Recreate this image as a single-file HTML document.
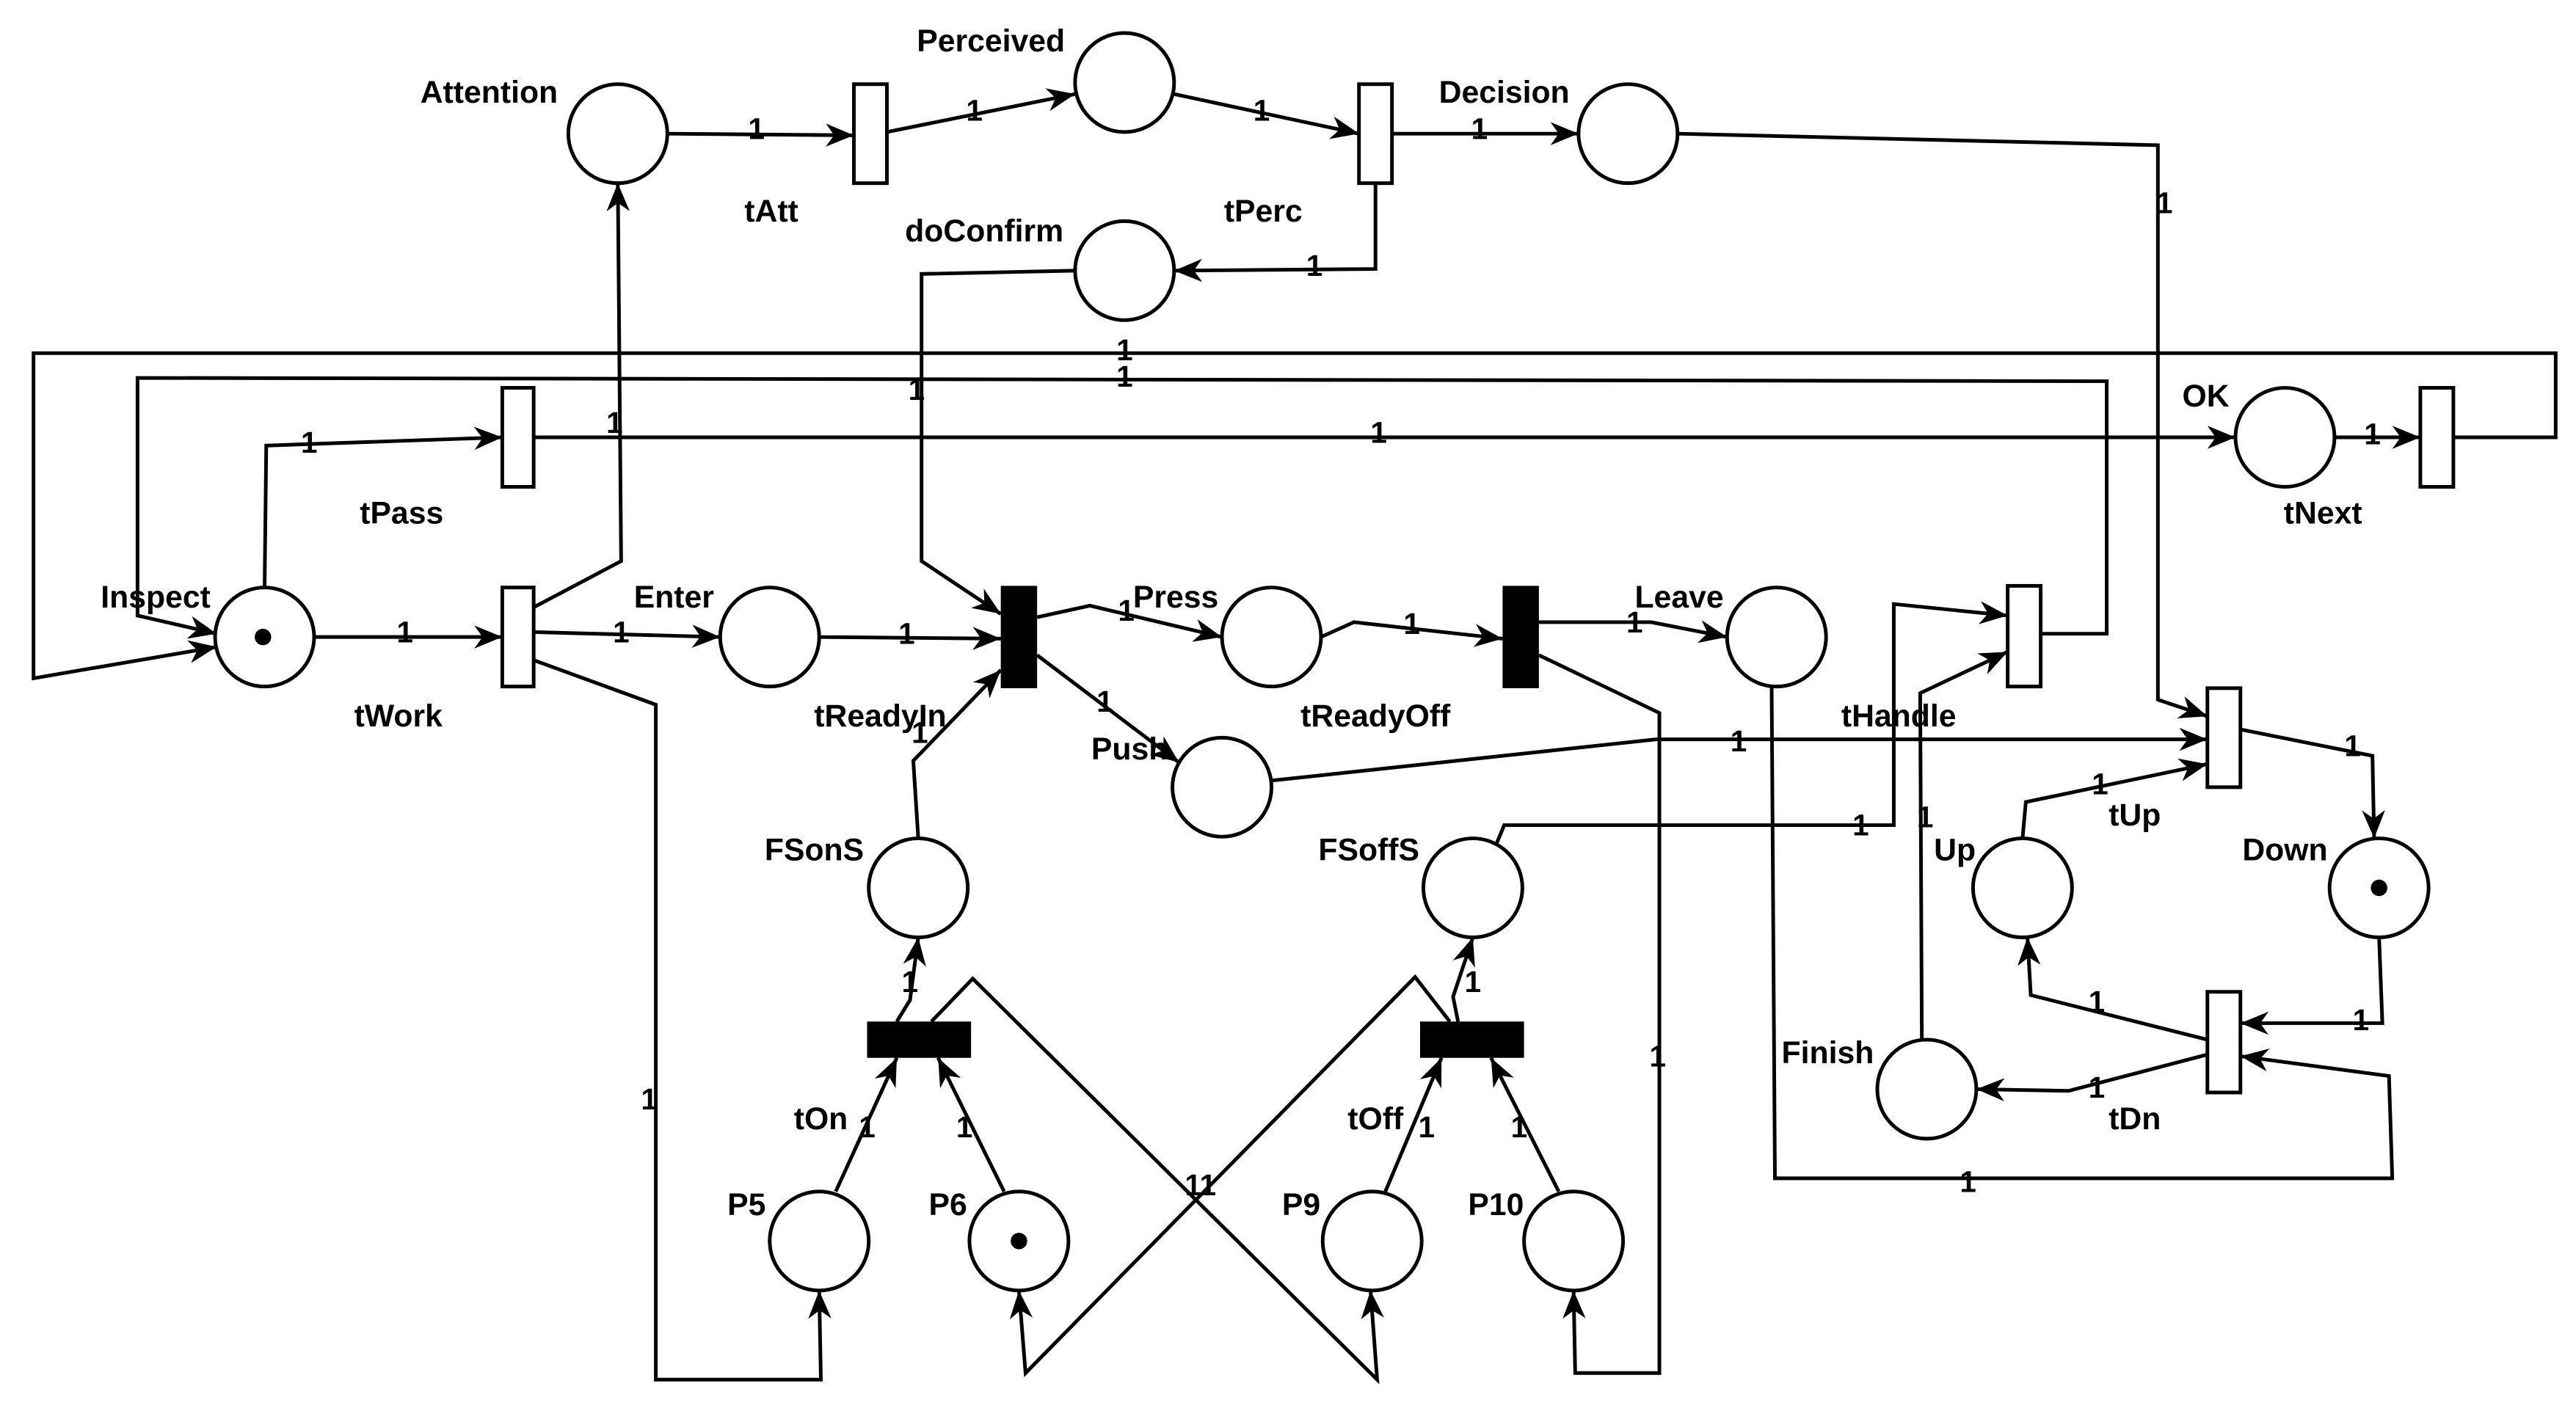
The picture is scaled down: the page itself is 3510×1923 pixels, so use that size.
<!DOCTYPE html>
<html><head><meta charset="utf-8"><style>
html,body{margin:0;padding:0;background:#fff;}
svg{display:block;}
text{font-family:"Liberation Sans",Arial,sans-serif;font-weight:bold;fill:#000;}
.l{font-size:19px;text-anchor:middle;dominant-baseline:central;}
.n{font-size:18px;text-anchor:middle;dominant-baseline:central;font-weight:bold;}
</style></head><body>
<svg width="3510" height="1923" viewBox="0 0 1560 855" xmlns="http://www.w3.org/2000/svg">
<defs>
<marker id="a" markerUnits="userSpaceOnUse" markerWidth="18" markerHeight="14" refX="17" refY="7" orient="auto">
<path d="M0,0 L17,7 L0,14 L5,7 z" fill="#000"/>
</marker>
</defs>
<rect width="1560" height="855" fill="#fff"/>
<g fill="none" stroke="#000" stroke-width="2.2" marker-end="url(#a)">
<path d="M404,81 L517,82"/>
<path d="M537,80 L651,57"/>
<path d="M711,57 L823,81"/>
<path d="M843,81 L956,81"/>
<path d="M833,111 L833,163 L711,164"/>
<path d="M1016,81 L1307,88 L1307,424 L1337,434"/>
<path d="M651,164 L558,166 L558,340 L606,372"/>
<path d="M1486,265 L1548,265 L1548,214 L20,214 L20,411 L131,392"/>
<path d="M1236,384 L1276,384 L1276,231 L83,229 L83,373 L131,384"/>
<path d="M160,356 L161,270 L304,265"/>
<path d="M323,265 L1354,265"/>
<path d="M1414,265 L1466,265"/>
<path d="M190,386 L304,386"/>
<path d="M323,368 L376,340 L374,111"/>
<path d="M323,383 L436,386"/>
<path d="M323,400 L397,427 L397,836 L497,836 L496,782"/>
<path d="M496,386 L606,387"/>
<path d="M628,374 L660,367 L740,386"/>
<path d="M628,397 L714,462"/>
<path d="M800,386 L820,377 L910,387"/>
<path d="M932,377 L1000,377 L1046,386"/>
<path d="M932,397 L1005,432 L1005,832 L954,832 L953,782"/>
<path d="M770,473 L1003,448 L1337,448"/>
<path d="M556,508 L553,461 L606,406"/>
<path d="M906,512 L911,500 L1147,500 L1147,366 L1216,373"/>
<path d="M1164,630 L1163,420 L1216,395"/>
<path d="M1357,442 L1437,458 L1438,508"/>
<path d="M1225,508 L1227,486 L1337,463"/>
<path d="M1441,568 L1443,620 L1357,620"/>
<path d="M1337,630 L1230,603 L1228,568"/>
<path d="M1337,639 L1253,661 L1197,660"/>
<path d="M1073,416 L1075,714 L1449,714 L1447,652 L1357,640"/>
<path d="M543,619 L551,606 L556,568"/>
<path d="M883,619 L880,604 L892,568"/>
<path d="M506,722 L543,641"/>
<path d="M608,722 L568,641"/>
<path d="M839,722 L873,641"/>
<path d="M944,722 L903,641"/>
<path d="M564,619 L589,593 L834,836 L830,782"/>
<path d="M878,619 L857,592 L621,832 L617,782"/>
</g>
<g fill="#fff" stroke="#000" stroke-width="2.2">
<circle cx="374" cy="81" r="30"/>
<circle cx="681" cy="50" r="30"/>
<circle cx="986" cy="81" r="30"/>
<circle cx="681" cy="164" r="30"/>
<circle cx="1384" cy="265" r="30"/>
<circle cx="160" cy="386" r="30"/>
<circle cx="466" cy="386" r="30"/>
<circle cx="770" cy="386" r="30"/>
<circle cx="1076" cy="386" r="30"/>
<circle cx="740" cy="477" r="30"/>
<circle cx="556" cy="538" r="30"/>
<circle cx="892" cy="538" r="30"/>
<circle cx="1225" cy="538" r="30"/>
<circle cx="1441" cy="538" r="30"/>
<circle cx="1167" cy="660" r="30"/>
<circle cx="496" cy="752" r="30"/>
<circle cx="617" cy="752" r="30"/>
<circle cx="831" cy="752" r="30"/>
<circle cx="953" cy="752" r="30"/>
<rect x="517" y="51" width="20" height="60"/>
<rect x="823" y="51" width="20" height="60"/>
<rect x="304" y="235" width="19" height="60"/>
<rect x="304" y="356" width="19" height="60"/>
<rect x="1466" y="235" width="20" height="60"/>
<rect x="1216" y="355" width="20" height="61"/>
<rect x="1337" y="417" width="20" height="60"/>
<rect x="1337" y="601" width="20" height="61"/>
</g>
<g fill="#000">
<rect x="606" y="355" width="22" height="62"/>
<rect x="910" y="355" width="22" height="62"/>
<rect x="525" y="619" width="63" height="22"/>
<rect x="860" y="619" width="63" height="22"/>
<circle cx="159" cy="386" r="5"/>
<circle cx="1441" cy="538" r="5"/>
<circle cx="617" cy="752" r="5"/>
</g>
<g>
<text class="l" x="296" y="56">Attention</text>
<text class="l" x="600" y="25">Perceived</text>
<text class="l" x="911" y="56">Decision</text>
<text class="l" x="467" y="128">tAtt</text>
<text class="l" x="765" y="128">tPerc</text>
<text class="l" x="596" y="140">doConfirm</text>
<text class="l" x="1336" y="240">OK</text>
<text class="l" x="1407" y="311">tNext</text>
<text class="l" x="243" y="311">tPass</text>
<text class="l" x="94" y="362">Inspect</text>
<text class="l" x="241" y="434">tWork</text>
<text class="l" x="408" y="362">Enter</text>
<text class="l" x="533" y="434">tReadyIn</text>
<text class="l" x="712" y="362">Press</text>
<text class="l" x="833" y="434">tReadyOff</text>
<text class="l" x="1017" y="362">Leave</text>
<text class="l" x="1150" y="434">tHandle</text>
<text class="l" x="684" y="454">Push</text>
<text class="l" x="493" y="515">FSonS</text>
<text class="l" x="829" y="515">FSoffS</text>
<text class="l" x="1184" y="515">Up</text>
<text class="l" x="1384" y="515">Down</text>
<text class="l" x="1293" y="494">tUp</text>
<text class="l" x="1107" y="638">Finish</text>
<text class="l" x="1293" y="678">tDn</text>
<text class="l" x="497" y="678">tOn</text>
<text class="l" x="833" y="678">tOff</text>
<text class="l" x="452" y="730">P5</text>
<text class="l" x="574" y="730">P6</text>
<text class="l" x="788" y="730">P9</text>
<text class="l" x="906" y="730">P10</text>
</g>
<g>
<text class="n" x="458" y="78">1</text>
<text class="n" x="590" y="67">1</text>
<text class="n" x="764" y="67">1</text>
<text class="n" x="896" y="78">1</text>
<text class="n" x="796" y="161">1</text>
<text class="n" x="1311" y="123">1</text>
<text class="n" x="555" y="236">1</text>
<text class="n" x="681" y="212">1</text>
<text class="n" x="681" y="228">1</text>
<text class="n" x="187" y="268">1</text>
<text class="n" x="835" y="262">1</text>
<text class="n" x="1437" y="263">1</text>
<text class="n" x="245" y="383">1</text>
<text class="n" x="372" y="256">1</text>
<text class="n" x="376" y="383">1</text>
<text class="n" x="393" y="666">1</text>
<text class="n" x="549" y="384">1</text>
<text class="n" x="682" y="370">1</text>
<text class="n" x="669" y="425">1</text>
<text class="n" x="855" y="378">1</text>
<text class="n" x="990" y="377">1</text>
<text class="n" x="1004" y="640">1</text>
<text class="n" x="1053" y="449">1</text>
<text class="n" x="557" y="444">1</text>
<text class="n" x="1127" y="500">1</text>
<text class="n" x="1166" y="495">1</text>
<text class="n" x="1425" y="452">1</text>
<text class="n" x="1272" y="475">1</text>
<text class="n" x="1430" y="618">1</text>
<text class="n" x="1270" y="607">1</text>
<text class="n" x="1270" y="659">1</text>
<text class="n" x="1192" y="716">1</text>
<text class="n" x="551" y="595">1</text>
<text class="n" x="892" y="595">1</text>
<text class="n" x="525" y="683">1</text>
<text class="n" x="584" y="683">1</text>
<text class="n" x="864" y="683">1</text>
<text class="n" x="920" y="683">1</text>
<text class="n" x="727" y="718">11</text>
</g>
</svg>
</body></html>
